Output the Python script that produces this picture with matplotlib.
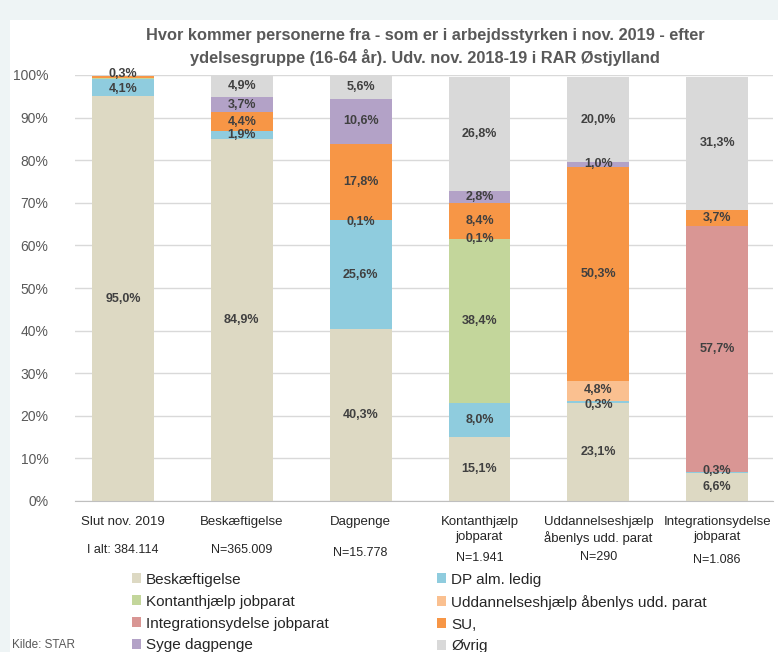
import numpy as np
import matplotlib
matplotlib.use("Agg")
import matplotlib.pyplot as plt
from matplotlib.patches import Rectangle, Patch
from matplotlib.transforms import blended_transform_factory

plt.rcParams["font.family"] = ["Liberation Sans Narrow", "Liberation Sans", "DejaVu Sans"]

# ==================================
# data
# ==================================
categories = [
    "Slut nov. 2019",
    "Beskæftigelse",
    "Dagpenge",
    "Kontanthjælp\njobparat",
    "Uddannelseshjælp\nåbenlys udd. parat",
    "Integrationsydelse\njobparat",
]
n_labels = ["I alt: 384.114", "N=365.009", "N=15.778", "N=1.941", "N=290", "N=1.086"]

series_names = [
    "Beskæftigelse",
    "DP alm. ledig",
    "Kontanthjælp jobparat",
    "Uddannelseshjælp åbenlys udd. parat",
    "Integrationsydelse jobparat",
    "SU,",
    "Syge dagpenge",
    "Øvrig",
]

beskaeftigelse = [95.0, 84.9, 40.3, 15.1, 23.1, 6.6]
dp_alm_ledig = [4.1, 1.9, 25.6, 8.0, 0.3, 0.3]
kontanthjaelp = [0.3, 0.0, 0.1, 38.4, 0.0, 0.0]
uddannelseshjaelp = [0.0, 0.0, 0.0, 0.1, 4.8, 0.0]
integrationsydelse = [0.0, 0.0, 0.0, 0.0, 0.0, 57.7]
su = [0.3, 4.4, 17.8, 8.4, 50.3, 3.7]
syge_dagpenge = [0.0, 3.7, 10.6, 2.8, 1.0, 0.0]
oevrig = [0.0, 4.9, 5.6, 26.8, 20.0, 31.3]

# segments drawn but not labelled in the original: (bar, series)
hidden_labels = {(0, 2)}

series_values = [
    beskaeftigelse, dp_alm_ledig, kontanthjaelp, uddannelseshjaelp,
    integrationsydelse, su, syge_dagpenge, oevrig,
]

# ==================================
# style
# ==================================
COLORS = ["#DDD9C3", "#8FCCDE", "#C3D69B", "#FAC090",
          "#D99694", "#F79646", "#B3A2C7", "#D9D9D9"]
TEXT = "#404040"
AXIS_TEXT = "#595959"
BG = "#EEF4F5"
# small nudges (in %-points) for labels of thin segments
LABEL_NUDGE = {(0, 5): 0.6, (0, 1): -0.4, (4, 1): -0.6, (4, 3): 0.3,
               (2, 2): -0.5, (5, 1): 0.4}

W, H = 778, 652
fig = plt.figure(figsize=(W / 100, H / 100), dpi=100, facecolor=BG)
fig.patches.append(Rectangle((10 / W, 0), 1, 1 - 20 / H, transform=fig.transFigure,
                             facecolor="white", edgecolor="none", zorder=-10))

ax = fig.add_axes([75 / W, 1 - 501 / H, (773 - 75) / W, (501 - 75) / H])
ax.set_facecolor("white")

x = np.arange(len(categories))
bottom = np.zeros(len(categories))
for s, (vals, color) in enumerate(zip(series_values, COLORS)):
    vals = np.array(vals)
    ax.bar(x, vals, width=0.52, bottom=bottom, color=color, linewidth=0, zorder=2)
    for i, v in enumerate(vals):
        if v <= 0 or (i, s) in hidden_labels:
            continue
        ax.text(x[i], bottom[i] + v / 2 + LABEL_NUDGE.get((i, s), 0),
                f"{v:.1f}%".replace(".", ","),
                ha="center", va="center", fontsize=9, fontweight="bold",
                color=TEXT, zorder=3)
    bottom += vals

ax.set_ylim(0, 100)
ax.set_xlim(-0.404, 5.47)
ax.set_yticks(np.arange(0, 101, 10))
ax.set_yticklabels([f"{t}%" for t in range(0, 101, 10)], color=AXIS_TEXT, fontsize=10)
ax.grid(axis="y", color="#D9D9D9", linewidth=1, zorder=0)
ax.set_axisbelow(True)
for sp in ["top", "right", "left"]:
    ax.spines[sp].set_visible(False)
ax.spines["bottom"].set_color("#BFBFBF")
ax.tick_params(axis="y", length=0, pad=19)
ax.tick_params(axis="x", length=0, pad=11)
ax.set_xticks(x)
ax.set_xticklabels(categories, fontsize=9.5, color="#262626", linespacing=1.3)

n_y = [550, 550, 553, 558, 557, 560]
ntrans = blended_transform_factory(ax.transData, fig.transFigure)
for i, (lab, yp) in enumerate(zip(n_labels, n_y)):
    ax.text(x[i], 1 - yp / H, lab, transform=ntrans,
            ha="center", va="center", fontsize=9, color="#262626")

fig.text(425 / W, 1 - 47 / H,
         "Hvor kommer personerne fra - som er i arbejdsstyrken i nov. 2019 - efter\n"
         "ydelsesgruppe (16-64 år). Udv. nov. 2018-19 i RAR Østjylland",
         ha="center", va="center", fontsize=11.8, fontweight="bold",
         color=AXIS_TEXT, linespacing=1.4)

handles = [Patch(facecolor=c, edgecolor="none") for c in COLORS]
col1 = [0, 2, 4, 6]
col2 = [1, 3, 5, 7]
for cols, xpos in [(col1, 124), (col2, 429)]:
    fig.legend([handles[k] for k in cols], [series_names[k] for k in cols],
               loc="upper left", bbox_to_anchor=(xpos / W, 1 - 565 / H),
               frameon=False, fontsize=11, handlelength=0.6, handleheight=0.6,
               handletextpad=0.35, labelspacing=0.52, borderpad=0,
               labelcolor="#262626")

fig.text(12 / W, 1 - 645 / H, "Kilde: STAR", ha="left", va="center",
         fontsize=8.5, color=AXIS_TEXT)

fig.savefig("out.png", dpi=100, facecolor=BG)
